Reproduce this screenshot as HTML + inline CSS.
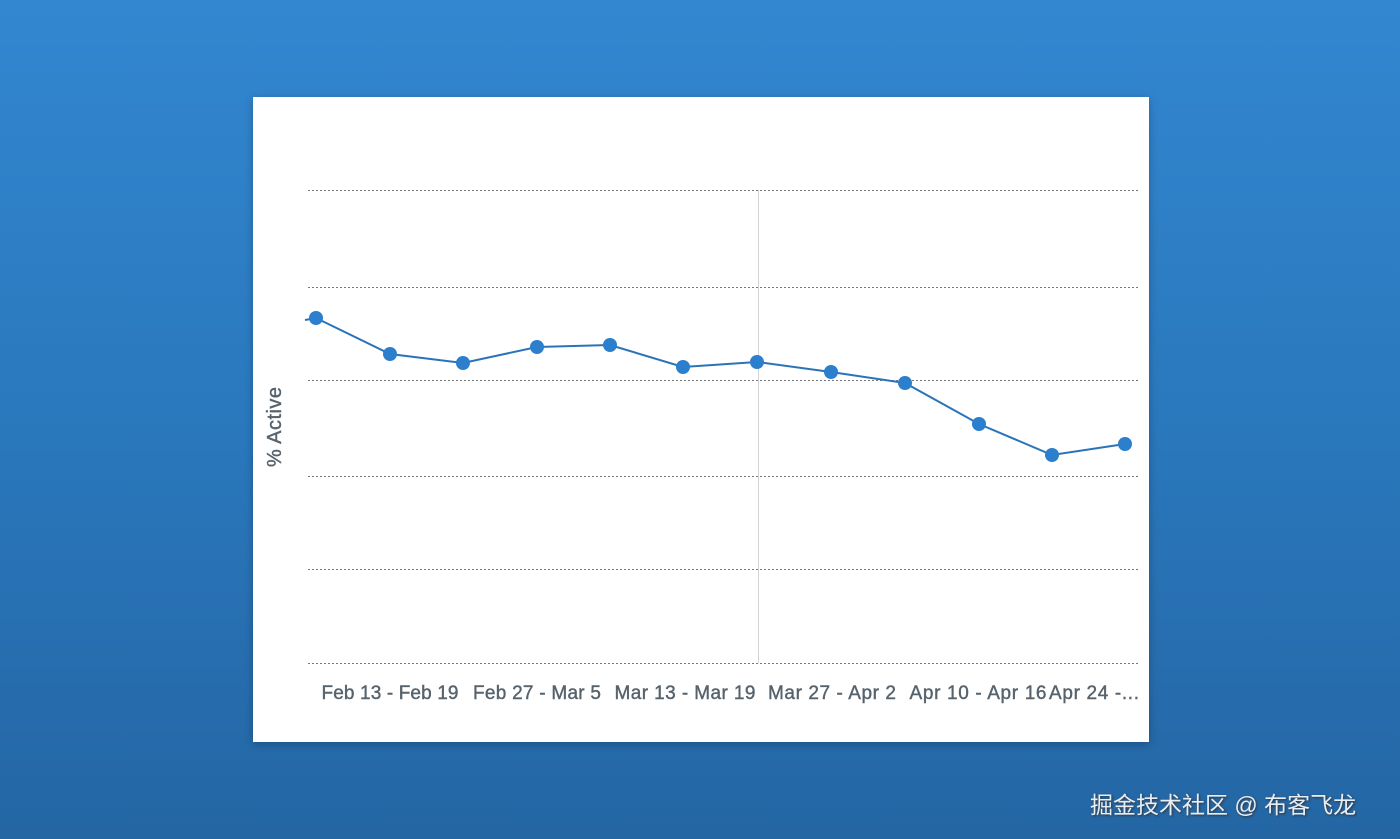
<!DOCTYPE html>
<html><head><meta charset="utf-8"><style>
html,body{margin:0;padding:0}
body{width:1400px;height:839px;overflow:hidden;background:linear-gradient(#3287d0,#2a78bd 50%,#2466a4);position:relative;font-family:"Liberation Sans","Noto Sans CJK SC",sans-serif}
.card{position:absolute;left:253px;top:97px;width:896px;height:645px;background:#fff;box-shadow:0 2px 8px rgba(0,0,0,.25)}
.wm{position:absolute;left:1090px;top:786px;font-size:23px;color:#e8eef4;text-shadow:1px 1px 2px #333;font-family:"Liberation Sans","Noto Sans CJK SC",sans-serif}
</style></head><body>
<div class="card"></div>
<svg width="1400" height="839" style="position:absolute;left:0;top:0">
<g stroke="#777" stroke-width="1" stroke-dasharray="2,2">
<line x1="308" x2="1140" y1="190.5" y2="190.5"/><line x1="308" x2="1140" y1="287.5" y2="287.5"/>
<line x1="308" x2="1140" y1="380.5" y2="380.5"/><line x1="308" x2="1140" y1="476.5" y2="476.5"/>
<line x1="308" x2="1140" y1="569.5" y2="569.5"/><line x1="308" x2="1140" y1="663.5" y2="663.5"/>
</g>
<line x1="758.5" x2="758.5" y1="190" y2="663" stroke="#d0d4d8"/>
<polyline fill="none" stroke="#2a73b8" stroke-width="2" points="305,320 316,318 390,354 463,363 537,347 610,345 683,367 757,362 831,372 905,383 979,424 1052,455 1125,444"/>
<g fill="#2b7fcc">
<circle cx="316" cy="318" r="7"/><circle cx="390" cy="354" r="7"/><circle cx="463" cy="363" r="7"/><circle cx="537" cy="347" r="7"/><circle cx="610" cy="345" r="7"/><circle cx="683" cy="367" r="7"/><circle cx="757" cy="362" r="7"/><circle cx="831" cy="372" r="7"/><circle cx="905" cy="383" r="7"/><circle cx="979" cy="424" r="7"/><circle cx="1052" cy="455" r="7"/><circle cx="1125" cy="444" r="7"/>
</g>
<g fill="#56626c" font-size="19" text-anchor="middle" font-family="Liberation Sans, sans-serif" stroke="#56626c" stroke-width="0.4">
<text x="390" y="699" textLength="137">Feb 13 - Feb 19</text><text x="537" y="699" textLength="128">Feb 27 - Mar 5</text>
<text x="685" y="699" textLength="141">Mar 13 - Mar 19</text><text x="832" y="699" textLength="128">Mar 27 - Apr 2</text>
<text x="978" y="699" textLength="137">Apr 10 - Apr 16</text><text x="1094" y="699" textLength="90">Apr 24 -...</text>
<text transform="translate(281,427) rotate(-90)" font-size="20" textLength="80">% Active</text>
</g>
</svg>
<div class="wm">掘金技术社区 @ 布客飞龙</div>
</body></html>
